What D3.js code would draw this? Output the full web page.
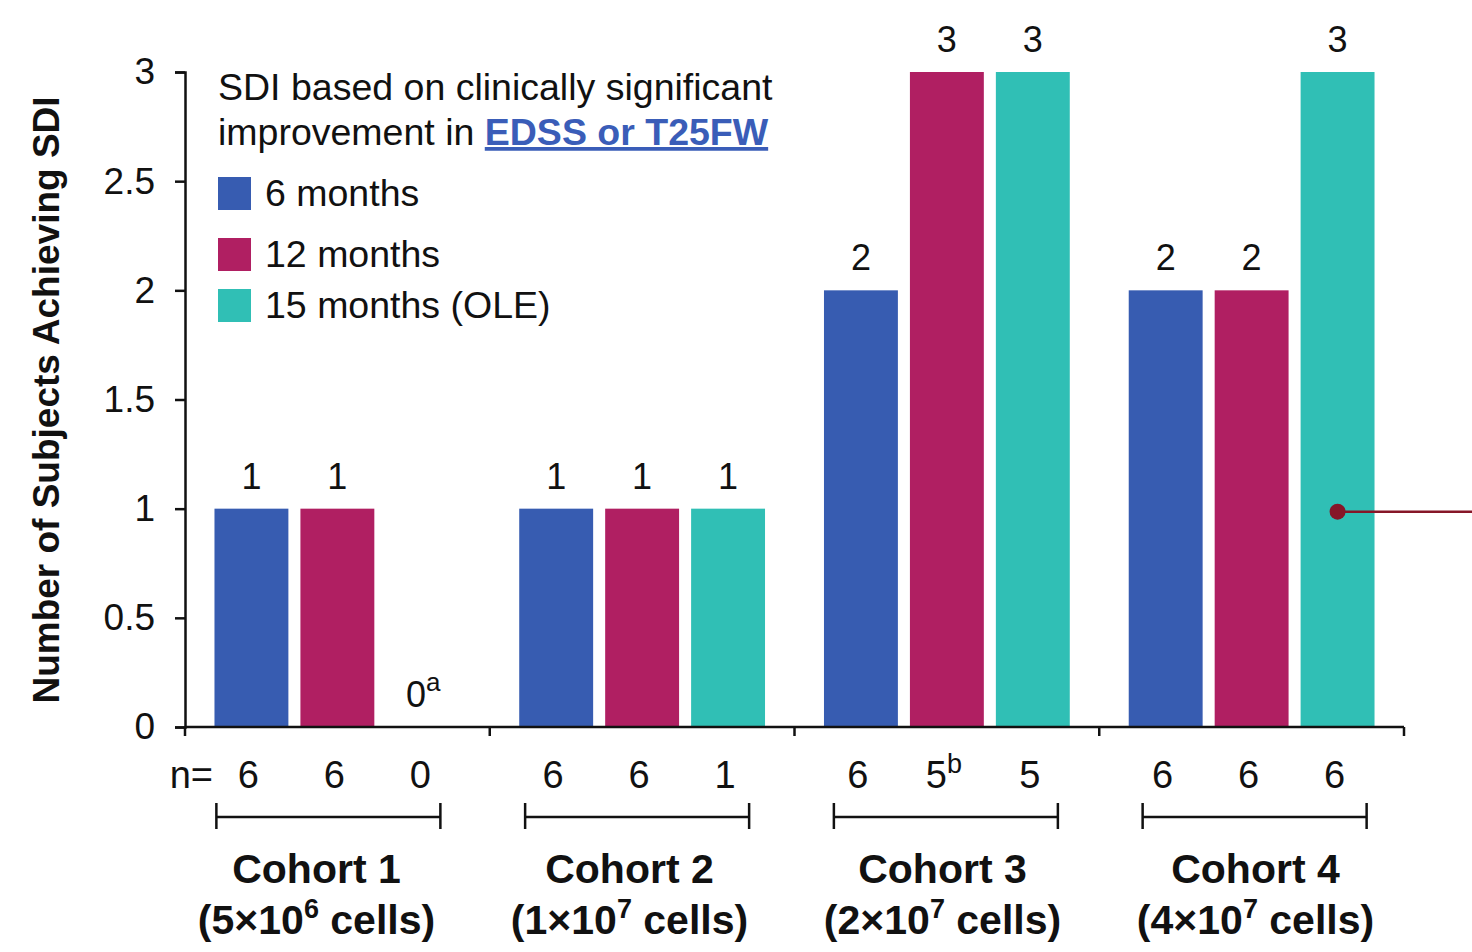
<!DOCTYPE html>
<html><head><meta charset="utf-8">
<script src="https://cdn.jsdelivr.net/npm/d3@7"></script>
<style>body{margin:0;background:#fff}svg{display:block}text{font-family:"Liberation Sans",Arial,sans-serif}</style>
</head><body>
<svg id="c" width="1472" height="952"></svg>
<script>
const cohorts = ["Cohort 1","Cohort 2","Cohort 3","Cohort 4"];
const cellBase = ["5","1","2","4"];
const cellExp = ["6","7","7","7"];
const series = ["6 months","12 months","15 months (OLE)"];
const colors = ["#375CB1","#B01F62","#30BFB5"];
const values = [[1,1,0],[1,1,1],[2,3,3],[2,2,3]];
const valueSup = [["","","a"],["","",""],["","",""],["","",""]];
const nValues = [["6","6","0"],["6","6","1"],["6","5","5"],["6","6","6"]];
const nSup = [["","",""],["","",""],["","b",""],["","",""]];
const yTicks = [0,0.5,1,1.5,2,2.5,3];
const yTickLabels = ["0","0.5","1","1.5","2","2.5","3"];

const svg = d3.select("#c");
const x0 = d3.scaleBand().domain(cohorts).range([185,1404]).paddingInner(0).paddingOuter(0);
const x1 = d3.scaleBand().domain(series).range([0,x0.bandwidth()]).paddingInner(0.14).paddingOuter(0.343);
const xBracket = d3.scaleBand().domain(cohorts).range([174,1409]);
const xLabel = d3.scaleBand().domain(cohorts).range([160,1412]);
const y = d3.scaleLinear().domain([0,3]).range([727,72]);

// bars
const g = svg.append("g");
cohorts.forEach((c,i)=>{
  series.forEach((s,j)=>{
    const v = values[i][j];
    const bx = x0(c)+x1(s);
    if(v>0) g.append("rect").attr("x",bx).attr("y",y(v)).attr("width",x1.bandwidth()).attr("height",y(0)-y(v)).attr("fill",colors[j]);
    const t = g.append("text").attr("x",bx+x1.bandwidth()/2).attr("y",y(v)-20).attr("text-anchor","middle").attr("font-size",36).attr("fill","#111").text(v);
    if(valueSup[i][j]) t.append("tspan").attr("font-size",26).attr("dy",-16).text(valueSup[i][j]);
    const n = g.append("text").attr("x",bx+x1.bandwidth()/2 - 3).attr("y",788).attr("text-anchor","middle").attr("font-size",38).attr("fill","#111").text(nValues[i][j]);
    if(nSup[i][j]) n.append("tspan").attr("font-size",27).attr("dy",-15).text(nSup[i][j]);
  });
  const cx = xBracket(c)+xBracket.bandwidth()/2;
  const br = svg.append("g").attr("stroke","#111").attr("stroke-width",2.5);
  br.append("line").attr("x1",cx-112).attr("x2",cx+112).attr("y1",817).attr("y2",817);
  br.append("line").attr("x1",cx-112).attr("x2",cx-112).attr("y1",803).attr("y2",829);
  br.append("line").attr("x1",cx+112).attr("x2",cx+112).attr("y1",803).attr("y2",829);
  const lx = xLabel(c)+xLabel.bandwidth()/2;
  svg.append("text").attr("x",lx).attr("y",883).attr("text-anchor","middle").attr("font-size",41).attr("font-weight","bold").attr("fill","#111").text(c);
  const ct = svg.append("text").attr("x",lx).attr("y",934).attr("text-anchor","middle").attr("font-size",41).attr("font-weight","bold").attr("fill","#111");
  ct.append("tspan").text("("+cellBase[i]+"×10");
  ct.append("tspan").attr("font-size",27).attr("dy",-16).text(cellExp[i]);
  ct.append("tspan").attr("dy",16).text(" cells)");
});
svg.append("text").attr("x",213).attr("y",788).attr("text-anchor","end").attr("font-size",38).attr("fill","#111").text("n=");

// axes
const yAxis = d3.axisLeft(y).tickValues(yTicks).tickFormat((d,i)=>yTickLabels[i]).tickSize(10).tickPadding(20);
const ya = svg.append("g").attr("transform","translate(185,0)").call(yAxis);
ya.selectAll("text").attr("font-size",37).attr("fill","#111").attr("font-family","Liberation Sans, Arial, sans-serif");
ya.selectAll("line,path").attr("stroke","#111").attr("stroke-width",2.5);
const xAxisG = svg.append("g").attr("stroke","#111").attr("stroke-width",2.5);
xAxisG.append("line").attr("x1",185).attr("x2",1404).attr("y1",727).attr("y2",727);
[0,1,2,3,4].forEach(k=>{
  const xv = k<4 ? x0(cohorts[k]) : x0.range()[1];
  xAxisG.append("line").attr("x1",xv).attr("x2",xv).attr("y1",727).attr("y2",736);
});

// y title
svg.append("text").attr("transform","translate(59,400) rotate(-90)").attr("text-anchor","middle").attr("font-size",37).attr("font-weight","bold").attr("fill","#111").text("Number of Subjects Achieving SDI");

// legend
svg.append("text").attr("x",218).attr("y",100).attr("font-size",37.5).attr("fill","#111").text("SDI based on clinically significant");
const l2 = svg.append("text").attr("x",218).attr("y",145).attr("font-size",37.5).attr("fill","#111");
l2.append("tspan").text("improvement in ");
l2.append("tspan").attr("font-weight","bold").attr("fill","#3A5DB8").attr("text-decoration","underline").text("EDSS or T25FW");
const legY = [193,254,305];
series.forEach((s,j)=>{
  svg.append("rect").attr("x",218).attr("y",legY[j]-16).attr("width",33).attr("height",33).attr("fill",colors[j]);
  svg.append("text").attr("x",265).attr("y",legY[j]+13).attr("font-size",37.5).attr("fill","#111").text(s);
});

// annotation marker
const mx = x0("Cohort 4")+x1("15 months (OLE)")+x1.bandwidth()/2;
svg.append("line").attr("x1",mx).attr("x2",1472).attr("y1",y(1)+3).attr("y2",y(1)+3).attr("stroke","#861628").attr("stroke-width",2.5);
svg.append("circle").attr("cx",mx).attr("cy",y(1)+3).attr("r",8).attr("fill","#861628");
</script>
</body></html>
